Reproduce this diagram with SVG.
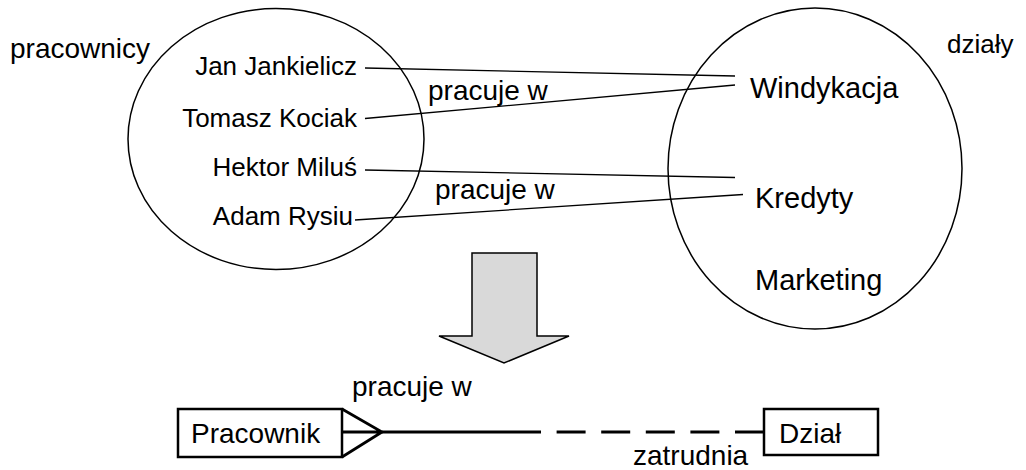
<svg xmlns="http://www.w3.org/2000/svg" width="1026" height="470" viewBox="0 0 1026 470">
<style>
text{font-family:"Liberation Sans",Arial,sans-serif;fill:#000}
.l{font-size:26px}
.r{font-size:29px}
.m{font-size:28px}
.set{fill:none;stroke:#000;stroke-width:1.5}
.thin{stroke:#000;stroke-width:1.3;fill:none}
.box{fill:#fff;stroke:#000;stroke-width:2.5}
.thick{stroke:#000;stroke-width:2.8;fill:none}
</style>
<rect width="1026" height="470" fill="#fff"/>
<g id="set-pracownicy">
<ellipse class="set" cx="276" cy="139" rx="148" ry="130.5"/>
<text class="m" x="10" y="58">pracownicy</text>
<text class="l" x="357" y="75" text-anchor="end">Jan Jankielicz</text>
<text class="l" x="357" y="127" text-anchor="end">Tomasz Kociak</text>
<text class="l" x="357" y="176" text-anchor="end">Hektor Miluś</text>
<text class="l" x="353" y="225" text-anchor="end">Adam Rysiu</text>
</g>
<g id="set-dzialy">
<ellipse class="set" cx="815" cy="168.5" rx="147" ry="160.5"/>
<text class="l" x="947" y="53">działy</text>
<text class="r" x="750" y="98">Windykacja</text>
<text class="r" x="755" y="208">Kredyty</text>
<text class="r" x="755" y="290">Marketing</text>
</g>
<g id="connectors">
<line class="thin" x1="365" y1="68" x2="735" y2="76"/>
<line class="thin" x1="365" y1="118.5" x2="735" y2="85"/>
<line class="thin" x1="365" y1="170" x2="735" y2="177.5"/>
<line class="thin" x1="355" y1="220" x2="743" y2="194.5"/>
<text class="m" x="428" y="100">pracuje w</text>
<text class="m" x="435" y="199">pracuje w</text>
<line class="thick" x1="382" y1="432" x2="541" y2="432"/>
<line class="thick" x1="764" y1="432" x2="541" y2="432" stroke-dasharray="29 15.6"/>
<text class="m" x="352" y="396">pracuje w</text>
<text class="m" x="633" y="465">zatrudnia</text>
</g>
<g id="transform-arrow">
<polygon points="472,253 537,253 537,336 569,336 504,363 439,336 472,336" fill="#d9d9d9" stroke="#000" stroke-width="1.5"/>
</g>
<g id="node-pracownik">
<rect class="box" x="178" y="409" width="164" height="48"/>
<text class="m" x="191" y="443">Pracownik</text>
<path class="thick" d="M342 409 L382 432 L342 457 M342 432 L382 432"/>
</g>
<g id="node-dzial">
<rect class="box" x="764" y="409" width="114" height="46"/>
<text class="m" x="779" y="443">Dział</text>
</g>
</svg>
